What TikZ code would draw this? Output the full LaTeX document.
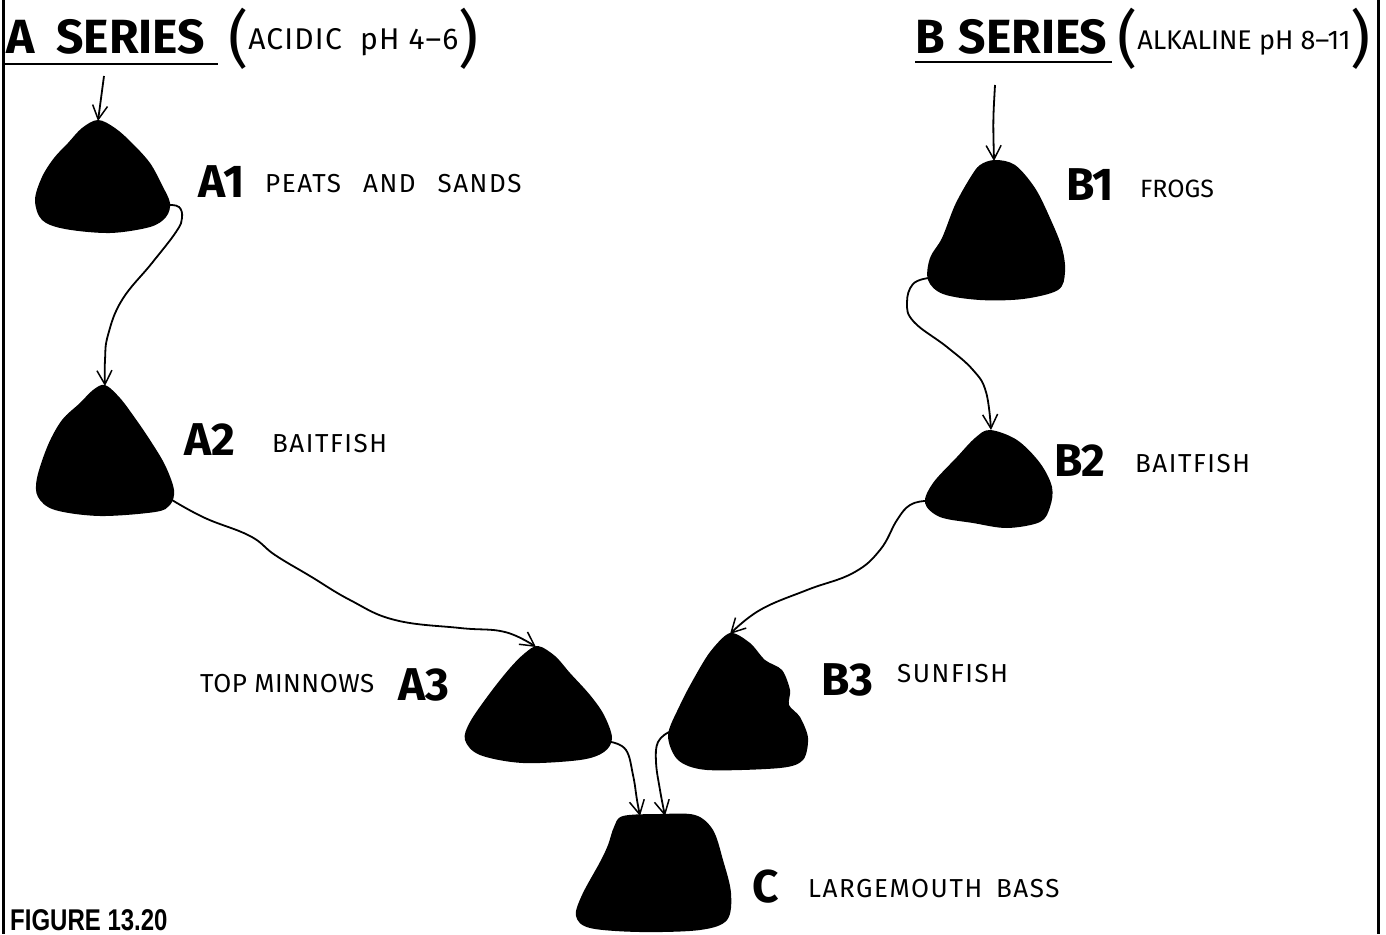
\documentclass[tikz,border=0pt]{standalone}
\usepackage{fontspec}
\setmainfont{Fira Sans}
\newfontfamily\figfont{Liberation Sans}
\usetikzlibrary{arrows.meta}
\newcommand\bigparen[1]{\raisebox{-11pt}{\fontsize{62}{62}\selectfont #1}}
\tikzset{
  blob/.style={fill=black},
  conn/.style={draw=black, line width=1.8pt, -{Straight Barb[length=14pt,width=15pt,line width=1.5pt]}},
  big/.style={anchor=base west, inner sep=0pt, font=\fontsize{46}{46}\selectfont\bfseries},
  title/.style={anchor=base west, inner sep=0pt, font=\fontsize{48}{48}\selectfont\bfseries},
  small/.style={anchor=base west, inner sep=0pt, font=\fontsize{26}{26}\selectfont\addfontfeatures{LetterSpace=6}},
  paren/.style={anchor=base west, inner sep=0pt},
  uline/.style={line width=2.6pt},
  border/.style={line width=3pt}
}
\begin{document}
\begin{tikzpicture}[x=1pt,y=-1pt]
\useasboundingbox (0,0) rectangle (1386,934);
% borders
\draw[border] (3,0) -- (3,934);
\draw[border] (1378,0) -- (1378,934);
% titles
\node[title] (tA) at (6,53) {A\hspace{22pt}SERIES};
\draw[uline] (5,64) -- (218,64);
\node[paren] (pA) at (228,50) {\bigparen{(}\fontsize{30}{30}\selectfont\addfontfeatures{LetterSpace=4}ACIDIC\ \ pH 4--6\bigparen{)}};
\node[title] (tB) at (915,53) {B\hspace{14pt}SERIES};
\draw[uline] (915,62) -- (1112,62);
\node[paren] (pB) at (1117,50) {\bigparen{(}\fontsize{27}{27}\selectfont ALKALINE pH 8--11\bigparen{)}};
% blobs
\fill[blob] plot[smooth cycle, tension=0.55] coordinates {(98,120) (115,128) (132,143) (150,163) (162,185) (170,203) (166,217) (150,227) (110,233) (65,229) (42,220) (35,200) (42,177) (54,158) (68,143) (82,128)};
\fill[blob] plot[smooth cycle, tension=0.55] coordinates {(105,385) (120,398) (135,418) (150,440) (165,465) (174,490) (170,505) (155,512) (100,516) (55,510) (38,497) (37,478) (48,445) (62,420) (80,403) (93,390)};
\fill[blob] plot[smooth cycle, tension=0.55] coordinates {(538,646) (555,656) (570,673) (590,695) (604,715) (612,738) (604,752) (580,760) (523,763) (480,755) (465,740) (470,722) (490,693) (510,668) (525,653)};
\fill[blob] plot[smooth cycle, tension=0.55] coordinates {(995,160) (1015,165) (1035,188) (1050,218) (1062,248) (1065,272) (1058,290) (1023,299) (980,300) (943,294) (928,280) (930,258) (942,238) (955,205) (970,178) (980,165)};
\fill[blob] plot[smooth cycle, tension=0.55] coordinates {(990,430) (1017,440) (1040,463) (1052,487) (1050,507) (1040,522) (1007,528) (973,523) (940,517) (925,503) (933,483) (957,457) (975,438)};
\fill[blob] plot[smooth cycle, tension=0.5] coordinates {(730,633) (750,643) (765,660) (782,670) (790,690) (789,705) (800,717) (808,738) (803,760) (780,768) (707,770) (678,760) (668,735) (680,705) (693,680) (710,652)};
\fill[blob] plot[smooth cycle, tension=0.55] coordinates {(623,816) (660,814) (695,815) (713,830) (723,860) (731,893) (727,920) (700,930) (640,932) (590,928) (576,916) (582,895) (600,862) (608,845) (614,827)};
% ports
\coordinate (Ain) at (104,76);
\coordinate (A1top) at (98,121);
\coordinate (A1out) at (168,205);
\coordinate (A2top) at (105,386);
\coordinate (A2out) at (172,500);
\coordinate (A3top) at (536,647);
\coordinate (A3out) at (611,742);
\coordinate (Bin) at (995,85);
\coordinate (B1top) at (994,161);
\coordinate (B1out) at (929,278);
\coordinate (B2top) at (991,430);
\coordinate (B2out) at (925,501);
\coordinate (B3top) at (730,634);
\coordinate (B3out) at (669,732);
\coordinate (Cin1) at (640,816);
\coordinate (Cin2) at (665,816);
% connectors
\draw[conn] (Ain) -- (A1top);
\draw[conn] plot[smooth, tension=0.7] coordinates {(A1out) (179,207) (182,218) (176,232) (152,263) (122,300) (108,335) (105,360) (A2top)};
\draw[conn] plot[smooth, tension=0.7] coordinates {(A2out) (205,518) (250,536) (275,555) (310,576) (350,600) (395,620) (460,628) (505,632) (A3top)};
\draw[conn] plot[smooth, tension=0.7] coordinates {(A3out) (626,750) (633,775) (637,800) (Cin1)};
\draw[conn] (Bin) .. controls (993,120) .. (B1top);
\draw[conn] plot[smooth, tension=0.7] coordinates {(B1out) (913,284) (907,303) (914,322) (947,347) (973,370) (986,392) (B2top)};
\draw[conn] plot[smooth, tension=0.7] coordinates {(B2out) (910,505) (897,520) (880,550) (853,573) (807,590) (760,610) (B3top)};
\draw[conn] plot[smooth, tension=0.7] coordinates {(B3out) (658,742) (656,762) (660,790) (Cin2)};
% labels
\node[big] (lA1) at (198,197) {A1};
\node[small] (tA1) at (265,192) {PEATS\hspace{22pt}AND\hspace{22pt}SANDS};
\node[big] (lA2) at (184,455) {A2};
\node[small] (tA2) at (272,452) {BAITFISH};
\node[small, font=\fontsize{26}{26}\selectfont\addfontfeatures{LetterSpace=2}] (tA3) at (200,692) {TOP MINNOWS};
\node[big] (lA3) at (398,700) {A3};
\node[big] (lB1) at (1066,200) {B1};
\node[small, font=\fontsize{25}{25}\selectfont] (tB1) at (1140,197) {FROGS};
\node[big] (lB2) at (1054,476) {B2};
\node[small] (tB2) at (1135,472) {BAITFISH};
\node[big] (lB3) at (821,695) {B3};
\node[small] (tB3) at (897,682) {SUNFISH};
\node[big] (lC) at (752,902) {C};
\node[small] (tC) at (808,897) {LARGEMOUTH\hspace{14pt}BASS};
\node[anchor=base west, inner sep=0pt] (fig) at (10,930) {\scalebox{0.8}[1]{\figfont\bfseries\fontsize{30}{30}\selectfont FIGURE 13.20}};
\end{tikzpicture}
\end{document}
